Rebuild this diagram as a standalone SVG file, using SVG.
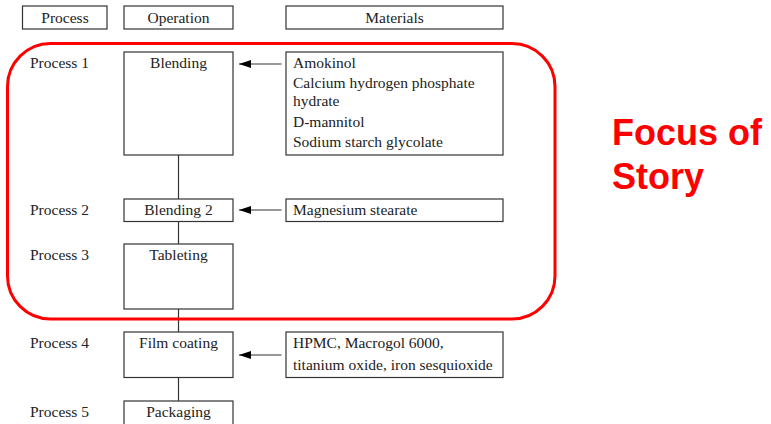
<svg xmlns="http://www.w3.org/2000/svg" width="771" height="424" viewBox="0 0 771 424">
<style>
.box{fill:#fff;stroke:#333;stroke-width:1.2}
.t{font-family:"Liberation Serif","Times New Roman",serif;font-size:15.5px;fill:#222}
.c{text-anchor:middle}
.ln{stroke:#333;stroke-width:1.2;fill:none}
.focus{font-family:"Liberation Sans",Arial,sans-serif;font-weight:bold;font-size:36px;fill:#ff0000}
</style>
<defs>
<marker id="ah" markerWidth="12" markerHeight="8" refX="12" refY="4" orient="auto" markerUnits="userSpaceOnUse">
<path d="M0,0 L12,4 L0,8 Z" fill="#000"/>
</marker>
</defs>
<rect width="771" height="424" fill="#fff"/>
<g id="connectors">
<line class="ln" x1="178.5" y1="155" x2="178.5" y2="199"/>
<line class="ln" x1="178.5" y1="221.5" x2="178.5" y2="244"/>
<line class="ln" x1="178.5" y1="309" x2="178.5" y2="332"/>
<line class="ln" x1="178.5" y1="377.5" x2="178.5" y2="401"/>
<line class="ln" x1="281.5" y1="64" x2="239" y2="64" marker-end="url(#ah)"/>
<line class="ln" x1="281.5" y1="210" x2="239" y2="210" marker-end="url(#ah)"/>
<line class="ln" x1="281.5" y1="355" x2="239" y2="355" marker-end="url(#ah)"/>
</g>
<g id="hdr-process"><rect class="box" x="22.5" y="6" width="84.5" height="23"/><text class="t c" x="65" y="22.5">Process</text></g>
<g id="hdr-operation"><rect class="box" x="124" y="6" width="109" height="23"/><text class="t c" x="178.5" y="22.5">Operation</text></g>
<g id="hdr-materials"><rect class="box" x="286" y="6" width="217" height="23"/><text class="t c" x="394.5" y="22.5">Materials</text></g>
<g id="labels">
<text class="t" x="30" y="68">Process 1</text>
<text class="t" x="30" y="215">Process 2</text>
<text class="t" x="30" y="260">Process 3</text>
<text class="t" x="30" y="348">Process 4</text>
<text class="t" x="30" y="417">Process 5</text>
</g>
<g id="op-blending"><rect class="box" x="124" y="52" width="109" height="103"/><text class="t c" x="178.5" y="68">Blending</text></g>
<g id="op-blending2"><rect class="box" x="124" y="199" width="109" height="22.5"/><text class="t c" x="178.5" y="215">Blending 2</text></g>
<g id="op-tableting"><rect class="box" x="124" y="244" width="109" height="65"/><text class="t c" x="178.5" y="260">Tableting</text></g>
<g id="op-film"><rect class="box" x="124" y="332" width="109" height="45.5"/><text class="t c" x="178.5" y="348">Film coating</text></g>
<g id="op-packaging"><rect class="box" x="124" y="401" width="109" height="30"/><text class="t c" x="178.5" y="417">Packaging</text></g>
<g id="mat-1"><rect class="box" x="286" y="52" width="217" height="103"/>
<text class="t" x="293" y="67.5">Amokinol</text>
<text class="t" x="293" y="88">Calcium hydrogen phosphate</text>
<text class="t" x="293" y="105.5">hydrate</text>
<text class="t" x="293" y="127">D-mannitol</text>
<text class="t" x="293" y="147">Sodium starch glycolate</text>
</g>
<g id="mat-2"><rect class="box" x="286" y="199" width="217" height="22.5"/><text class="t" x="293" y="215">Magnesium stearate</text></g>
<g id="mat-4"><rect class="box" x="286" y="332" width="217" height="45.5"/>
<text class="t" x="293" y="348">HPMC, Macrogol 6000,</text>
<text class="t" x="293" y="369.5">titanium oxide, iron sesquioxide</text>
</g>
<g id="focus">
<rect x="7.5" y="43.5" width="547.5" height="275.5" rx="43" ry="43" fill="none" stroke="#ff0000" stroke-width="3"/>
<text class="focus" x="612" y="144.5">Focus of</text>
<text class="focus" x="612" y="188.5">Story</text>
</g>
</svg>
